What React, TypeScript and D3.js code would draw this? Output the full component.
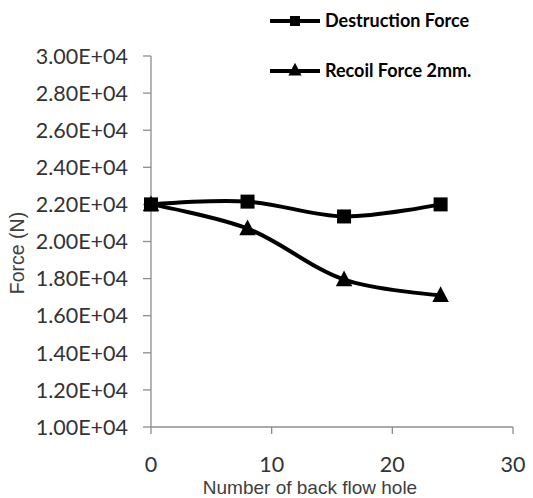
import React from "react";
import * as d3 from "d3";

const holes = [0, 8, 16, 24];
const destructionForce = [22000, 22150, 21350, 22000];
const recoilForce = [22000, 20700, 17950, 17100];
const yTicks = [10000, 12000, 14000, 16000, 18000, 20000, 22000, 24000, 26000, 28000, 30000];
const xTicks = [0, 10, 20, 30];
const seriesNames = ["Destruction Force", "Recoil Force 2mm."];

const W = 533;
const H = 498;

export default function App() {
  const x = d3.scaleLinear().domain([0, 30]).range([151, 513]);
  const y = d3.scaleLinear().domain([10000, 30000]).range([427, 56]);
  const line = d3
    .line<number>()
    .x((_, i) => x(holes[i]))
    .y((d) => y(d))
    .curve(d3.curveCatmullRom.alpha(0.5));

  const tri = (cx: number, cy: number, s: number) =>
    `M${cx},${cy - s * 0.6}L${cx + s * 0.55},${cy + s * 0.45}L${cx - s * 0.55},${cy + s * 0.45}Z`;

  const axisColor = "#8c8c8c";
  const tickFont = "Lato, 'Open Sans', sans-serif";

  return (
    <svg width={W} height={H} style={{ position: "absolute", left: 0, top: 0, background: "#fff" }}>
      {/* axes */}
      <line x1={x(0)} x2={x(0)} y1={y(30000)} y2={y(10000)} stroke={axisColor} strokeWidth={1.3} />
      <line x1={x(0)} x2={x(30)} y1={y(10000)} y2={y(10000)} stroke={axisColor} strokeWidth={1.3} />
      {yTicks.map((t) => (
        <g key={"y" + t}>
          <line x1={x(0) - 8} x2={x(0)} y1={y(t)} y2={y(t)} stroke={axisColor} strokeWidth={1.3} />
          <text
            x={128}
            y={y(t)}
            dy="0.36em"
            textAnchor="end"
            fontFamily={tickFont}
            fontSize={21.5}
            fill="#333"
          >
            {t.toExponential(2).replace("e+", "E+0").toUpperCase()}
          </text>
        </g>
      ))}
      {xTicks.map((t) => (
        <g key={"x" + t}>
          <line x1={x(t)} x2={x(t)} y1={y(10000)} y2={y(10000) + 7} stroke={axisColor} strokeWidth={1.3} />
          <text x={x(t)} y={464} dy="0.36em" textAnchor="middle" fontFamily={tickFont} fontSize={21.5} fill="#333">
            {t}
          </text>
        </g>
      ))}
      <text
        x={310}
        y={494}
        textAnchor="middle"
        fontFamily="'Liberation Sans', Arial, sans-serif"
        fontSize={19}
        fill="#404040"
      >
        Number of back flow hole
      </text>
      <text
        transform="translate(24,253) rotate(-90)"
        textAnchor="middle"
        fontFamily="'Liberation Sans', Arial, sans-serif"
        fontSize={19.5}
        fill="#404040"
      >
        Force (N)
      </text>

      {/* series */}
      <path d={line(destructionForce) || ""} fill="none" stroke="#000" strokeWidth={4} />
      <path d={line(recoilForce) || ""} fill="none" stroke="#000" strokeWidth={4} />
      {destructionForce.map((v, i) => (
        <rect key={"s" + i} x={x(holes[i]) - 7} y={y(v) - 7} width={14} height={14} fill="#000" />
      ))}
      {recoilForce.map((v, i) => (
        <path key={"t" + i} d={tri(x(holes[i]), y(v), 15)} fill="#000" />
      ))}

      {/* legend */}
      {seriesNames.map((name, i) => {
        const ly = 21 + i * 50;
        return (
          <g key={name}>
            <line x1={270} x2={320} y1={ly} y2={ly} stroke="#000" strokeWidth={4} />
            {i === 0 ? (
              <rect x={290} y={ly - 5} width={10} height={10} fill="#000" />
            ) : (
              <path d={tri(295, ly - 1, 12)} fill="#000" />
            )}
            <text x={325} y={ly} dy="0.36em" fontFamily={tickFont} fontWeight="bold" fontSize={18} fill="#000">
              {name}
            </text>
          </g>
        );
      })}
    </svg>
  );
}
